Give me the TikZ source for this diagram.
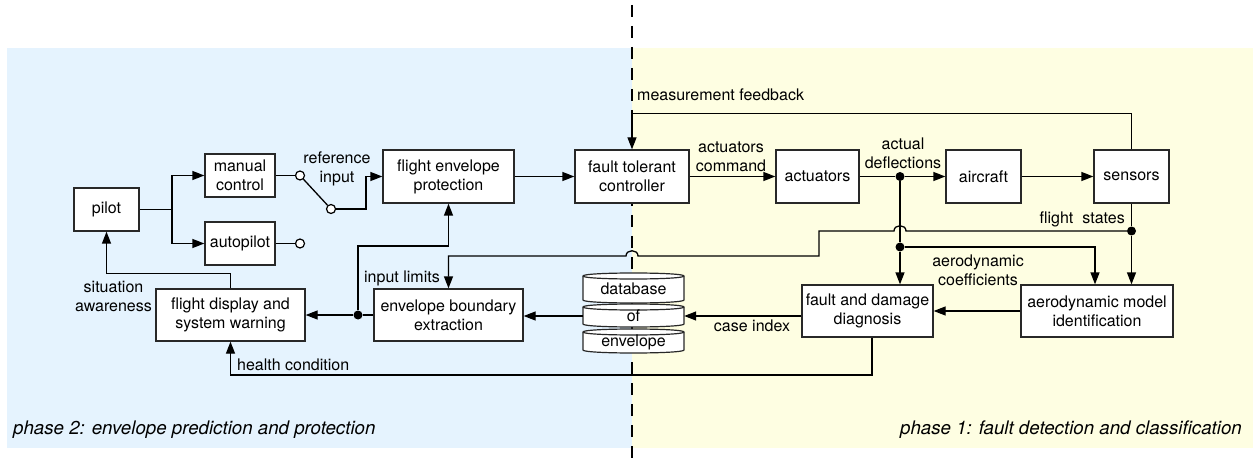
\documentclass[tikz,border=0pt]{standalone}
\usepackage{fontspec}
\setmainfont{TeX Gyre Heros}
\usetikzlibrary{arrows.meta,calc}
\definecolor{bgblue}{RGB}{229,243,254}
\definecolor{bgyellow}{RGB}{254,254,226}
\definecolor{boxline}{RGB}{40,40,40}
\begin{document}
\begin{tikzpicture}[x=1pt,y=-1pt,
  font=\fontsize{16}{19}\selectfont,
  blk/.style={draw=boxline,line width=1.3pt,fill=white,align=center,inner sep=0pt},
  conn/.style={line width=1.3pt,draw=black},
  arr/.style={conn,-{Triangle[length=12pt,width=9pt]}},
  dotn/.style={circle,fill=black,inner sep=0pt,minimum size=9pt},
  term/.style={circle,draw=black,line width=1.2pt,fill=white,inner sep=0pt,minimum size=9pt},
  lbl/.style={inner sep=0pt,align=center},
  phase/.style={inner sep=0pt,font=\fontsize{18.7}{22}\selectfont\itshape},
  dbcyl/.style={fill=white,draw=boxline,line width=1.2pt}
]
\useasboundingbox (0,0) rectangle (1253,465);
\fill[bgblue] (7,48) rectangle (632,448);
\fill[bgyellow] (632,48) rectangle (1253,448);
\draw[line width=2.2pt, dash pattern=on 12pt off 9pt] (632,5) -- (632,465);

% blocks
\node[blk, minimum width=65pt, minimum height=43pt] (pilot) at (106.5,209.5) {pilot};
\node[blk, minimum width=70pt, minimum height=43pt] (manual) at (240,175.5) {manual\\control};
\node[blk, minimum width=70pt, minimum height=43pt] (auto) at (240,243.5) {autopilot};
\node[blk, minimum width=131pt, minimum height=53pt] (fep) at (448.5,176.5) {flight envelope\\protection};
\node[blk, minimum width=114pt, minimum height=53pt] (ftc) at (632,176.5) {fault tolerant\\controller};
\node[blk, minimum width=83pt, minimum height=53pt] (act) at (817.5,176.5) {actuators};
\node[blk, minimum width=75pt, minimum height=53pt] (air) at (983.5,176.5) {aircraft};
\node[blk, minimum width=75pt, minimum height=53pt] (sen) at (1131.5,176.5) {sensors};
\node[blk, minimum width=131pt, minimum height=52pt] (fdd) at (867.5,311) {fault and damage\\diagnosis};
\node[blk, minimum width=152pt, minimum height=52pt] (ami) at (1097,311) {aerodynamic model\\identification};
\node[blk, minimum width=149pt, minimum height=52pt] (ebe) at (448.5,315) {envelope boundary\\extraction};
\node[blk, minimum width=149pt, minimum height=52pt] (fds) at (230.5,315) {flight display and\\system warning};

% database cylinders
\foreach \yt/\yb in {276/300, 307/324, 332/350}{
  \filldraw[dbcyl] (583,\yt) -- (583,\yb) .. controls (583,\yb+4) and (684,\yb+4) .. (684,\yb)
     -- (684,\yt) .. controls (684,\yt-4) and (583,\yt-4) .. (583,\yt) -- cycle;
  \draw[dbcyl, fill=none] (583,\yt) .. controls (583,\yt+4) and (684,\yt+4) .. (684,\yt);
}
\node[lbl] (dbA) at (633.5,289) {database};
\node[lbl, minimum width=101pt] (db) at (633.5,316) {of};
\node[lbl] (dbC) at (633.5,342) {envelope};

% pilot branches
\coordinate (br) at (172,209.5);
\draw[conn] (pilot.east) -- (br);
\draw[arr] (br) |- (manual.west);
\draw[arr] (br) |- (auto.west);

% switch
\node[term] (t1) at (300,175.5) {};
\node[term] (t2) at (331,209) {};
\node[term] (t3) at (300,243.5) {};
\draw[conn] (manual.east) -- (t1.west);
\draw[conn] (auto.east) -- (t3.west);
\draw[conn] (t1) -- (t2);
\draw[arr] (t2.east) -- (366,209) |- (fep.west);

% main chain
\draw[arr] (fep.east) -- (ftc.west);
\draw[arr] (ftc.east) -- (act.west);
\node[dotn] (d1) at (900,176.5) {};
\draw[conn] (act.east) -- (d1);
\draw[arr] (d1) -- (air.west);
\draw[arr] (air.east) -- (sen.west);

% measurement feedback
\draw[arr] (sen.north) -- ++(0,-36) -| (ftc.north);

% actual deflections downwards
\node[dotn] (d2) at (900,247) {};
\draw[conn] (d1) -- (d2);
\draw[arr] (d2) -- (d2 |- fdd.north);
\draw[arr] (d2) -| ([xshift=-2pt]ami.north);

% flight states
\node[dotn] (d3) at (1131.5,231) {};
\draw[conn] (sen.south) -- (d3);
\draw[arr] (d3) -- (d3 |- ami.north);
\draw[arr] (d3) -- (906,231) .. controls (906,224) and (894,224) .. (894,231) -- (819,231) -- (819,256)
   -- (638,256) .. controls (638,249) and (626,249) .. (626,256) -| (ebe.north);

% envelope limits
\node[dotn] (d4) at (358,315) {};
\draw[conn] (ebe.west) -- (d4);
\draw[arr] (d4) -- (fds.east);
\draw[arr] (d4) -- (358,246) -| (fep.south);

% situation awareness
\draw[arr] (fds.north) -- ++(0,-15) -| (pilot.south);

% health condition
\draw[arr] ([xshift=4.5pt]fdd.south) -- (872,375) -| (fds.south);

% diagnosis chain
\draw[arr] (ami.west) -- (fdd.east);
\draw[arr] (fdd.west |- db.east) -- (db.east);
\draw[arr] (db.west) -- (ebe.east |- db.west);

% labels
\node[lbl] (lref) at (337,169) {reference\\input};
\node[lbl] (lsit) at (113.5,296) {situation\\awareness};
\node[lbl, anchor=east] (lin) at (440,278) {input limits};
\node[lbl, anchor=west] (lhc) at (237,365) {health condition};
\node[lbl] (lac) at (731,157) {actuators\\command};
\node[lbl] (lad) at (903,153) {actual\\deflections};
\node[lbl, anchor=east] (lfs) at (1125,219) {flight\hspace{9pt}states};
\node[lbl] (lco) at (978,270) {aerodynamic\\coefficients};
\node[lbl] (lci) at (752,326) {case index};
\node[lbl, anchor=west] (lmf) at (637,95) {measurement feedback};
\node[phase, anchor=base west] (p2) at (13,434) {phase 2: envelope prediction and protection};
\node[phase, anchor=base east] (p1) at (1242,434) {phase 1: fault detection and classification};
\end{tikzpicture}
\end{document}
